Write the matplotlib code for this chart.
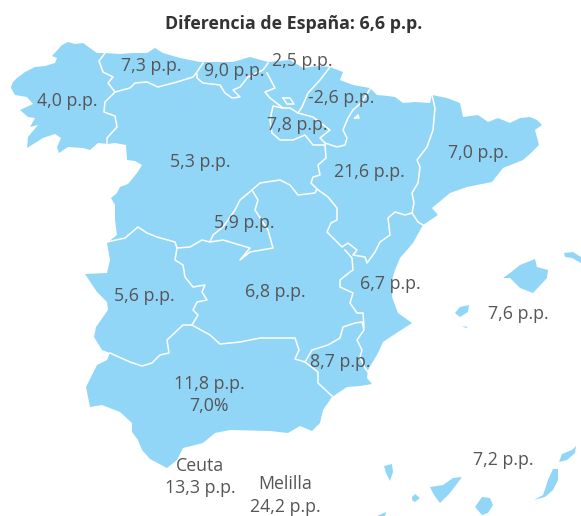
import matplotlib
matplotlib.use("Agg")
import matplotlib.pyplot as plt
from matplotlib.patches import Polygon

plt.rcParams['font.family'] = ['Open Sans', 'DejaVu Sans']

# outlines (pixels)
peninsula = [(11,87),(13,82),(17,78),(25,72),(35,67),(45,66),(55,63),(57,58),(52,56),(62,45),(68,42),(75,44),(83,43),(97,53),(105,53),
    (120,54),(133,53),(147,53),(155,48),(163,53),(180,58),(200,62),(217,62),(233,62),(250,57),(268,62),(290,60),
    (303,68),(318,66),(330,67),(343,72),(340,80),(353,85),(370,88),(377,95),(388,96),(395,97),(403,103),(415,102),(430,103),(432,95),
    (447,98),(460,103),(463,117),(478,115),(488,122),(498,118),(510,123),(520,118),(530,117),(537,120),(542,125),(535,130),
    (539,145),(531,153),(523,160),(503,168),(492,182),(467,187),(450,193),(432,208),(438,215),(423,225),(413,243),
    (407,250),(400,258),(395,270),(392,280),(392,297),(398,313),(412,323),(398,332),(383,342),(378,353),(368,370),(367,378),
    (372,384),(360,386),(347,387),(332,397),(323,410),(320,423),(312,431),(300,426),(288,433),(270,431),
    (230,430),(215,433),(203,443),(183,448),(177,460),(167,468),(150,459),(142,450),(138,440),(132,432),
    (132,423),(120,412),(102,405),(90,407),(86,387),(97,365),(107,360),(110,353),(102,350),(94,337),
    (96,327),(108,310),(107,302),(97,292),(85,274),(107,273),(110,260),(107,243),(117,235),(115,220),(115,205),(111,198),
    (117,193),(120,187),(128,184),(137,173),(142,165),(135,161),(127,160),(126,145),(115,143),(108,144),(98,143),(90,150),
    (83,148),(68,147),(59,153),(57,147),(61,138),(55,134),(43,138),(27,148),(28,137),(38,125),(30,127),(35,118),(28,117),(20,110),(33,104),(27,97),(15,95),(11,88)]
islands = [
    [(503,278),(510,273),(520,265),(535,259),(537,267),(548,270),(547,278),(533,293),(520,288),(510,278)],
    [(564,253),(573,252),(581,257),(581,263),(572,258),(565,257)],
    [(455,313),(460,307),(469,305),(468,312),(460,317)],
    [(462,326),(468,327),(466,328)],
    [(384,466),(392,464),(393,472),(390,481),(386,473)],
    [(412,497),(415,494),(420,498),(415,502),(412,500)],
    [(430,487),(443,485),(453,478),(462,477),(450,493),(440,503),(434,495)],
    [(475,507),(482,497),(490,498),(493,505),(488,513),(482,515)],
    [(534,500),(543,495),(548,480),(553,469),(558,469),(558,480),(553,490),(545,497)],
    [(559,462),(562,454),(572,450),(576,446),(575,453),(567,460)],
    [(377,516),(386,512),(385,516)],
]
borders = [
    [(105,53),(99,61),(103,72),(113,77),(108,83),(115,92),(105,102),(104,112),(115,116),(117,127),(107,138),(107,144)],
    [(115,92),(130,88),(135,83),(147,82),(158,87),(177,82),(193,77),(197,72),(203,63)],
    [(197,74),(197,78),(203,83),(220,85),(225,93),(232,98),(240,97),(233,90),(240,87),(248,77),(263,70),(268,63)],
    [(267,73),(275,88),(265,92),(270,98),(283,108),(290,108),(298,113)],
    [(330,67),(320,80),(308,93),(302,107),(298,113)],
    [(283,98),(290,98),(294,104),(287,104),(283,98)],
    [(370,89),(362,102),(353,110),(348,118),(343,130),(347,138),(345,145),(337,147),(325,143)],
    [(355,118),(358,115),(359,118),(355,118)],
    [(298,113),(313,117),(330,130),(320,138),(325,143)],
    [(325,145),(313,145),(305,135),(293,140),(280,140),(272,133),(270,120),(273,106),(283,108)],
    [(325,145),(326,158),(318,165),(320,175),(313,177),(311,183),(317,189),(328,197),(337,208),(337,220),
     (331,223),(327,232),(342,247),(348,243),(357,250),(353,255),(365,257),(367,263),(375,252),(380,242),
     (390,235),(388,218),(395,212),(405,215),(412,213)],
    [(432,95),(435,108),(433,130),(427,147),(417,160),(420,167),(418,183),(412,193),(414,203),(412,213),(418,222),(423,225)],
    [(252,190),(260,183),(280,180),(290,185),(298,195),(315,193),(317,189)],
    [(252,190),(258,200),(255,210),(268,230),(273,248),(250,252),(240,260),(250,248),(223,240),(210,242)],
    [(252,190),(240,200),(235,210),(223,227),(213,235),(210,242),(202,240),(190,247),(177,248)],
    [(107,242),(125,238),(138,227),(147,233),(157,237),(175,242),(177,248),(175,260),(183,265),(185,277),
     (193,287),(205,285),(202,292),(207,300),(197,302),(193,310),(198,315),(192,325)],
    [(192,325),(183,325),(167,340),(169,353),(160,355),(152,363),(142,366),(130,362),(110,353)],
    [(192,325),(210,335),(220,344),(240,342),(260,338),(283,338),(295,338),(299,350),(295,359),(305,362)],
    [(305,362),(318,372),(318,383),(332,396)],
    [(305,362),(312,350),(328,345),(340,338),(343,327),(355,323),(362,322),(364,330),(357,340),(362,350),(360,357),(365,368),(368,372)],
    [(345,250),(352,258),(353,270),(350,272),(340,280),(340,287),(353,293),(350,303),(357,313),(363,313),(364,327)],
]

title = "Diferencia de España: 6,6 p.p."
labels = ["4,0 p.p.","7,3 p.p.","9,0 p.p.","2,5 p.p.","-2,6 p.p.","7,8 p.p.","5,3 p.p.","7,0 p.p.","21,6 p.p.",
          "5,9 p.p.","6,7 p.p.","6,8 p.p.","5,6 p.p.","7,6 p.p.","8,7 p.p.","11,8 p.p.","7,0%","Ceuta","13,3 p.p.",
          "Melilla","24,2 p.p.","7,2 p.p."]
label_x = [67,151,234,302,341,297,200,478,369,244,390,275,144,518,340,209,209,200,200,285,285,503]
label_y = [101,66,71,61,98,125,162,153,172,223,284,292,296,314,362,384,406,466,488,484,507,460]

fig = plt.figure(figsize=(5.81, 5.16), dpi=100)
ax = fig.add_axes([0, 0, 1, 1])
ax.set_xlim(0, 581)
ax.set_ylim(516, 0)
ax.axis('off')

for shape in [peninsula] + islands:
    ax.add_patch(Polygon(shape, closed=True, facecolor='#92D6F7', edgecolor='none'))
for line in borders:
    ax.plot([p[0] for p in line], [p[1] for p in line], color='white', lw=1.1, solid_joinstyle='round')

for x, y, txt in zip(label_x, label_y, labels):
    ax.text(x, y, txt, ha='center', va='center', fontsize=12.8, color='#555555')
ax.text(294, 24, title, ha='center', va='center', fontsize=12.8, fontweight='bold', color='#333333')

fig.savefig("out.png", dpi=100)
